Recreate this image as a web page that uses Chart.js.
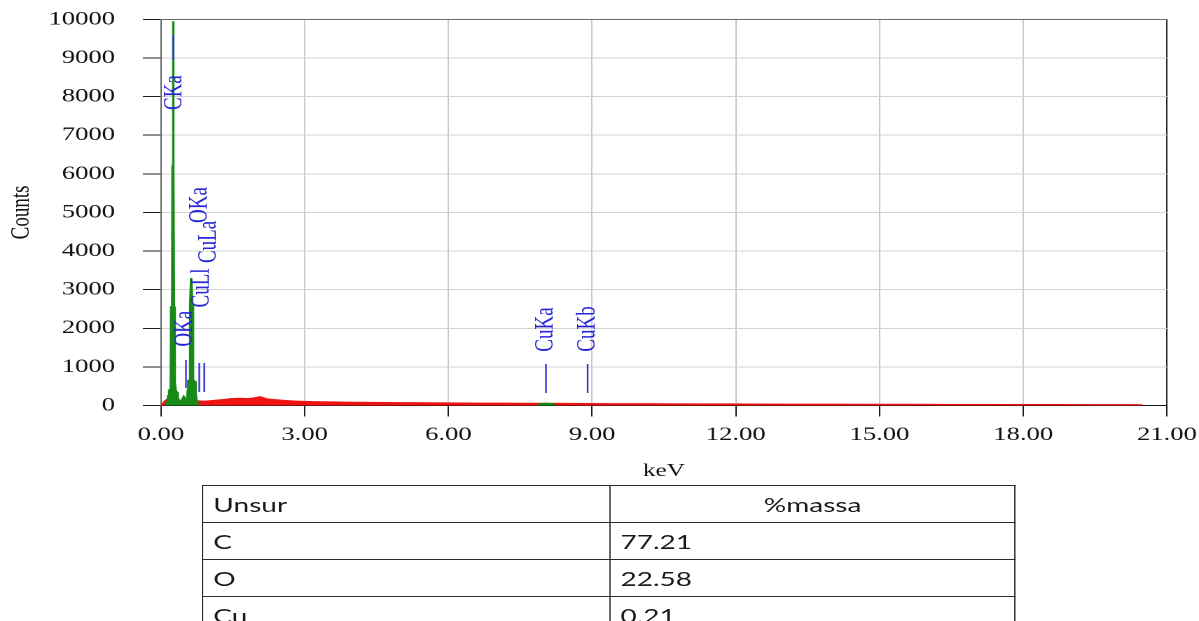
<!DOCTYPE html>
<html>
<head>
<meta charset="utf-8">
<script src="https://cdn.jsdelivr.net/npm/chart.js@4.4.1/dist/chart.umd.min.js"></script>
<style>
html,body{margin:0;padding:0;background:#fff;overflow:hidden;width:1199px;height:621px;}
#wrap{position:absolute;left:0;top:0;width:856px;height:621px;transform:scaleX(1.4007);transform-origin:0 0;overflow:hidden;}
#chartBox{position:absolute;left:0;top:0;width:856px;height:490px;}
#tbl{position:absolute;left:144.3px;top:485px;width:580px;border-collapse:collapse;table-layout:fixed;font-family:Lato,"Open Sans",sans-serif;font-size:20px;color:#1a1a1a;}
#tbl td{border:1px solid #2a2a2a;height:36px;padding:0 0 0 7px;line-height:20px;vertical-align:middle;}
#tbl td.c{text-align:center;padding:0;}
</style>
</head>
<body>
<div id="wrap">
  <div id="chartBox"><canvas id="c"></canvas></div>
  <table id="tbl"><colgroup><col style="width:290.7px"><col style="width:289.3px"></colgroup><tbody id="tb"></tbody></table>
</div>
<script>
// ---- data ----
const xTicks = [0, 3, 6, 9, 12, 15, 18, 21];
const yTicks = [0, 1000, 2000, 3000, 4000, 5000, 6000, 7000, 8000, 9000, 10000];

// background spectrum (keV, counts)
const redKeV = [0.00,0.03,0.06,0.09,0.12,0.20,0.40,0.60,0.78,0.85,0.95,1.05,1.15,1.25,1.35,1.45,1.55,1.65,1.75,1.85,1.95,2.02,2.07,2.12,2.18,2.25,2.35,2.45,2.55,2.70,2.85,3.00,3.20,3.40,3.60,3.85,4.10,4.40,4.70,5.00,5.30,5.60,6.00,6.40,6.80,7.20,7.60,8.00,8.40,8.90,9.40,10.0,10.6,11.2,11.8,12.5,13.2,14.0,14.8,15.6,16.4,17.2,18.0,18.8,19.6,20.2,20.47,20.48];
const redCounts = [0,20,70,110,140,150,130,120,110,100,105,115,125,135,150,165,170,175,168,172,185,205,215,195,170,155,142,132,122,110,100,95,88,84,80,76,72,68,64,62,60,57,55,52,50,48,46,45,43,40,37,34,32,30,28,26,24,22,20,18,16,15,14,12,10,9,8,0];

// identified peak regions (C Ka, O Ka / Cu L)
const greenLowKeV = [0.12,0.13,0.15,0.17,0.19,0.205,0.212,0.235,0.242,0.250,0.258,0.265,0.272,0.285,0.292,0.31,0.33,0.35,0.38,0.41,0.44,0.46,0.475,0.49,0.51,0.545,0.56,0.57,0.595,0.605,0.615,0.63,0.645,0.655,0.665,0.675,0.71,0.725,0.745,0.76];
const greenLowCounts = [0,60,250,380,420,520,2550,2600,6200,9950,9900,6200,2560,2500,600,380,350,200,120,100,130,200,230,200,120,110,400,640,660,1500,2600,3300,3300,2600,1300,660,620,300,120,0];
// Cu Ka region
const greenCuKeV = [7.87,7.90,8.00,8.05,8.10,8.20,8.22];
const greenCuCounts = [0,40,48,52,48,40,0];

// line markers (keV, low count, high count)
const markerKeV = [0.257, 0.522, 0.800, 0.904, 8.037, 8.907];
const markerLow = [8950, 453, 350, 350, 324, 324];
const markerHigh = [9600, 1178, 1100, 1100, 1075, 1075];

// peak labels
const peakNames = ['CKa', 'OKa', 'CuLl', 'CuLa', 'OKa', 'CuKa', 'CuKb'];
const peakLabelKeV = [0.278, 0.501, 0.845, 0.992, 0.814, 8.037, 8.913];
const peakLabelCounts = [7652, 1523, 2538, 3690, 4726, 1393, 1393];

// table
const tableHeader = ['Unsur', '%massa'];
const tableElements = ['C', 'O', 'Cu'];
const tableMass = ['77.21', '22.58', '0.21'];

// ---- build ----
const pairs = (xs, ys) => xs.map((v, i) => ({x: v, y: ys[i]}));
const markerData = [];
markerKeV.forEach((k, i) => {
  markerData.push({x: k, y: markerLow[i]}, {x: k, y: markerHigh[i]}, {x: k, y: null});
});

const tb = document.getElementById('tb');
let html = '<tr><td>' + tableHeader[0] + '</td><td class="c">' + tableHeader[1] + '</td></tr>';
tableElements.forEach((e, i) => { html += '<tr><td>' + e + '</td><td>' + tableMass[i] + '</td></tr>'; });
tb.innerHTML = html;

const SERIF = '"Liberation Serif", "Times New Roman", serif';
Chart.defaults.font.family = SERIF;

const labelPlugin = {
  id: 'peakLabels',
  afterDatasetsDraw(chart) {
    const {ctx, scales: {x, y}} = chart;
    ctx.save();
    ctx.font = '19px ' + SERIF;
    ctx.fillStyle = '#2626d8';
    ctx.textAlign = 'left';
    ctx.textBaseline = 'middle';
    peakNames.forEach((n, i) => {
      const px = x.getPixelForValue(peakLabelKeV[i]);
      const py = y.getPixelForValue(peakLabelCounts[i]);
      ctx.save();
      ctx.translate(px, py);
      ctx.rotate(-Math.PI / 2);
      ctx.fillText(n, 0, 0);
      ctx.restore();
    });
    ctx.restore();
  }
};

new Chart(document.getElementById('c'), {
  type: 'line',
  data: {
    datasets: [
      {data: markerData, borderColor: '#3434d8', borderWidth: 1.2, pointRadius: 0, spanGaps: false, fill: false, order: -1},
      {data: pairs(greenLowKeV, greenLowCounts), borderColor: '#178a17', backgroundColor: '#178a17', borderWidth: 1.7, pointRadius: 0, fill: 'origin', order: 0},
      {data: pairs(greenCuKeV, greenCuCounts), borderColor: '#178a17', backgroundColor: '#178a17', borderWidth: 1.5, pointRadius: 0, fill: 'origin', order: 0},
      {data: pairs(redKeV, redCounts), borderColor: '#ee1414', backgroundColor: '#ee1414', borderWidth: 2, pointRadius: 0, fill: 'origin', order: 2}
    ]
  },
  options: {
    responsive: true,
    maintainAspectRatio: false,
    animation: false,
    devicePixelRatio: 2,
    layout: {padding: {top: 19.3, right: 22.9, left: 0, bottom: 0}},
    plugins: {legend: {display: false}, tooltip: {enabled: false}},
    elements: {line: {tension: 0}},
    scales: {
      x: {
        type: 'linear', min: 0, max: 21,
        afterBuildTicks: s => { s.ticks = xTicks.map(v => ({value: v})); },
        afterFit: s => { s.height = 84.5; s.paddingLeft = 0; s.paddingRight = 0; s.paddingTop = 0; s.paddingBottom = 0; },
        ticks: {autoSkip: false, maxRotation: 0, padding: 7, color: '#111', font: {size: 19, family: SERIF}, callback: v => Number(v).toFixed(2)},
        grid: {
          color: c => (c.tick && c.tick.value === 21) ? '#2a2a2a' : '#c9c9c9',
          lineWidth: 1, tickLength: 11, tickColor: '#1e1e1e'
        },
        border: {display: true, color: '#111', width: 1},
        title: {display: true, text: 'keV', color: '#111', font: {size: 18, family: SERIF}, padding: {top: 0, bottom: 8}}
      },
      y: {
        type: 'linear', min: 0, max: 10000,
        afterBuildTicks: s => { s.ticks = yTicks.map(v => ({value: v})); },
        afterFit: s => { s.width = 114.9; s.paddingLeft = 0; s.paddingRight = 0; s.paddingTop = 0; s.paddingBottom = 0; },
        ticks: {autoSkip: false, padding: 19.9, color: '#111', font: {size: 19, family: SERIF}, callback: v => String(v)},
        grid: {
          color: c => (c.tick && c.tick.value === 10000) ? '#6a6a6a' : '#d3d3d3',
          lineWidth: 1, tickLength: 12.9, tickColor: '#1e1e1e'
        },
        border: {display: true, color: '#666', width: 1},
        title: {display: true, text: 'Counts', color: '#111', font: {size: 19, family: SERIF}, padding: {top: 4, bottom: 0}}
      }
    }
  },
  plugins: [labelPlugin]
});
</script>
</body>
</html>
